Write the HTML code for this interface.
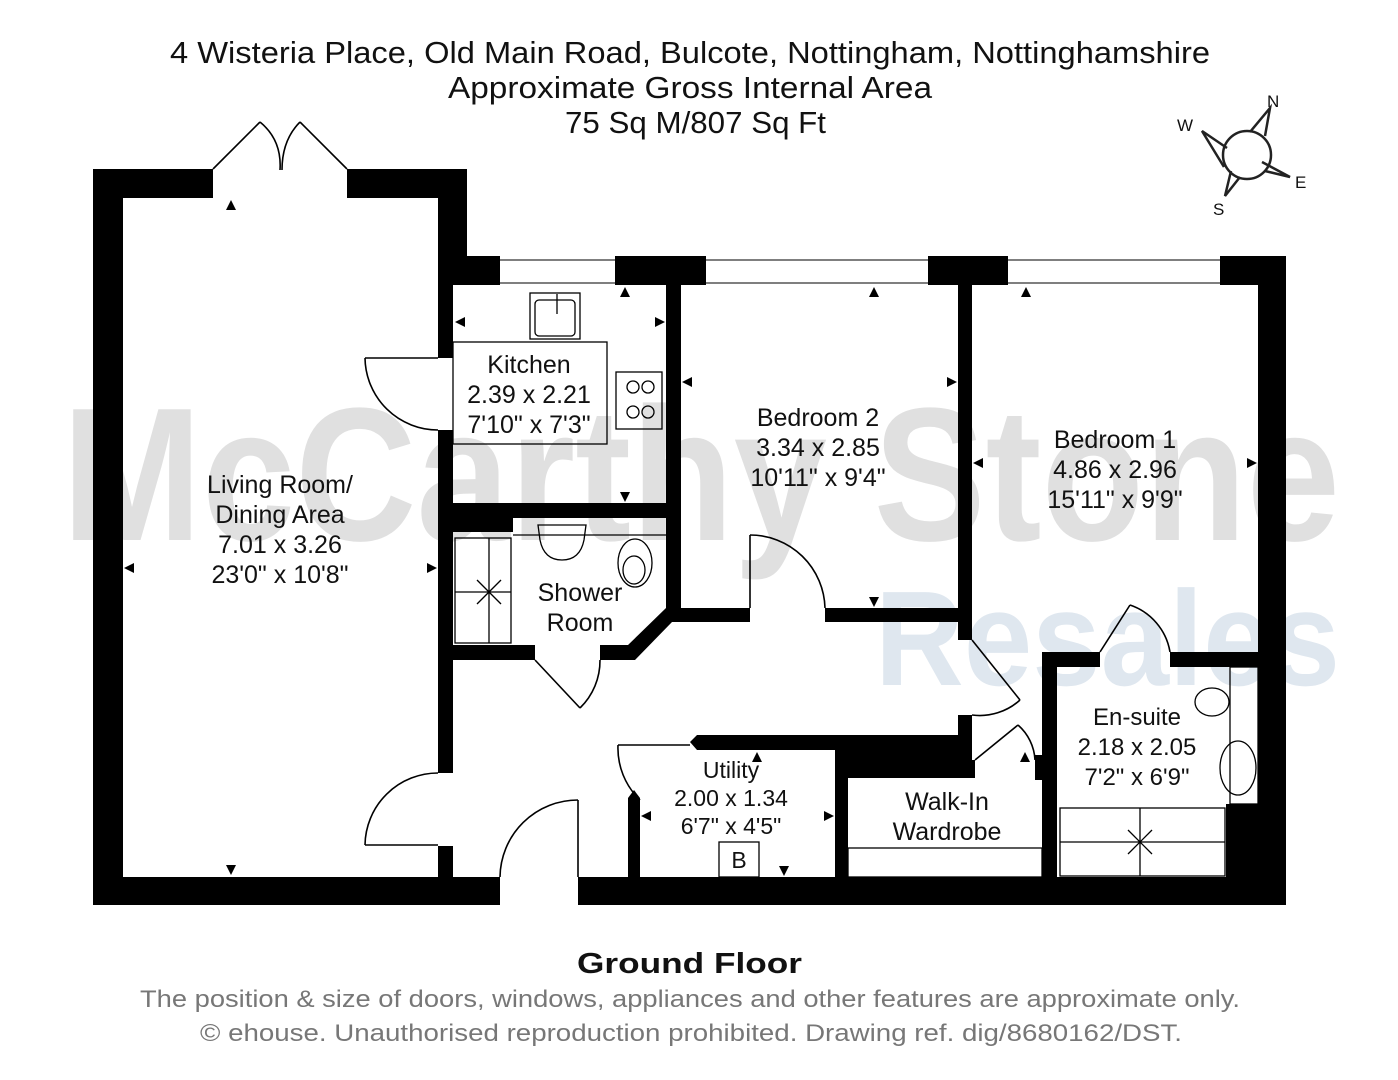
<!DOCTYPE html>
<html><head><meta charset="utf-8"><style>
html,body{margin:0;padding:0;background:#fff;}
svg{display:block;}
text{font-family:"Liberation Sans",sans-serif;}
</style></head><body>
<svg width="1398" height="1080" viewBox="0 0 1398 1080" xmlns="http://www.w3.org/2000/svg">
<!-- watermark -->
<text x="62" y="540" font-size="190" font-weight="bold" fill="#e0e0e0" textLength="1278" lengthAdjust="spacingAndGlyphs">McCarthy Stone</text>
<text x="875" y="685" font-size="135" font-weight="bold" fill="#dfe7ef" textLength="465" lengthAdjust="spacingAndGlyphs">Resales</text>

<!-- title -->
<g font-size="31" fill="#111">
<text x="170" y="63" textLength="1040" lengthAdjust="spacingAndGlyphs">4 Wisteria Place, Old Main Road, Bulcote, Nottingham, Nottinghamshire</text>
<text x="448" y="98" textLength="484" lengthAdjust="spacingAndGlyphs">Approximate Gross Internal Area</text>
<text x="565" y="133" textLength="261" lengthAdjust="spacingAndGlyphs">75 Sq M/807 Sq Ft</text>
</g>

<!-- compass -->
<g stroke="#222" stroke-width="2.5" fill="none">
<circle cx="1247" cy="155" r="24"/>
<polyline points="1250,132 1270,108 1265,136"/>
<polyline points="1227,148 1202,131 1224,167"/>
<polyline points="1265,171 1290,177 1262,162"/>
<polyline points="1240,177 1225,196 1231,171"/>
</g>
<g font-size="17" fill="#111"><text x="1267" y="107">N</text><text x="1177" y="131">W</text><text x="1295" y="188">E</text><text x="1213" y="215">S</text></g>

<!-- walls -->
<g fill="#000">
<rect x="93" y="169" width="120" height="29"/>
<rect x="93" y="169" width="30" height="736"/>
<rect x="347" y="169" width="120" height="29"/>
<rect x="438" y="169" width="29" height="116"/>
<rect x="438" y="256" width="62" height="29"/>
<rect x="615" y="256" width="91" height="29"/>
<rect x="928" y="256" width="80" height="29"/>
<rect x="1220" y="256" width="66" height="29"/>
<rect x="1258" y="256" width="28" height="649"/>
<rect x="438" y="285" width="15" height="73"/>
<rect x="438" y="430" width="15" height="343"/>
<rect x="438" y="846" width="15" height="31"/>
<rect x="93" y="877" width="407" height="28"/>
<rect x="578" y="877" width="708" height="28"/>
<rect x="666" y="285" width="15" height="337"/>
<rect x="453" y="503" width="213" height="15"/>
<rect x="453" y="518" width="60" height="14"/>
<rect x="453" y="645" width="82" height="15"/>
<polygon points="600,645 628,645 666,608 681,608 681,622 672,622 635,660 600,660"/>
<rect x="666" y="608" width="84" height="14"/>
<rect x="825" y="608" width="147" height="14"/>
<rect x="958" y="285" width="14" height="355"/>
<rect x="958" y="715" width="14" height="30"/>
<polygon points="697,735 972,735 972,760 848,760 848,877 835,877 835,750 697,750 690,742"/>
<rect x="848" y="745" width="124" height="33"/>
<rect x="628" y="798" width="12" height="79"/>
<polygon points="628,798 634,790 640,798"/>
<rect x="958" y="760" width="17" height="18"/>
<rect x="1035" y="755" width="22" height="25"/>
<rect x="1042" y="652" width="15" height="225"/>
<rect x="1042" y="652" width="58" height="15"/>
<rect x="1170" y="652" width="88" height="15"/>
<rect x="1226" y="804" width="32" height="73"/>
</g>

<!-- windows -->
<g stroke="#333" stroke-width="1.2" fill="none">
<line x1="500" y1="260" x2="615" y2="260"/><line x1="500" y1="283" x2="615" y2="283"/>
<line x1="706" y1="260" x2="928" y2="260"/><line x1="706" y1="283" x2="928" y2="283"/>
<line x1="1008" y1="260" x2="1220" y2="260"/><line x1="1008" y1="283" x2="1220" y2="283"/>
</g>

<!-- doors -->
<g stroke="#000" stroke-width="1.6" fill="none">
<line x1="213" y1="169" x2="260" y2="122"/><path d="M260,122 Q282,140 280,170"/>
<line x1="347" y1="169" x2="300" y2="122"/><path d="M300,122 Q282,140 282,170"/>
<line x1="438" y1="358" x2="365" y2="358"/><path d="M365,358 A73,73 0 0 0 438,430"/>
<line x1="438" y1="845" x2="365" y2="845"/><path d="M365,845 A73,73 0 0 1 438,773"/>
<line x1="578" y1="877" x2="578" y2="800"/><path d="M500,877 A78,78 0 0 1 578,800"/>
<line x1="535" y1="660" x2="580" y2="708"/><path d="M580,708 A66,66 0 0 0 600,660"/>
<line x1="750" y1="608" x2="750" y2="535"/><path d="M750,535 A75,75 0 0 1 825,608"/>
<line x1="972" y1="640" x2="1020" y2="700"/><path d="M1020,700 A60,60 0 0 1 972,715"/>
<line x1="1100" y1="652" x2="1130" y2="605"/><path d="M1130,605 A60,60 0 0 1 1170,652"/>
<line x1="975" y1="760" x2="1018" y2="725"/><path d="M1018,725 A50,50 0 0 1 1035,760"/>
<line x1="690" y1="745" x2="618" y2="745"/><path d="M618,745 A72,72 0 0 0 640,800"/>
</g>

<!-- fittings -->
<g stroke="#000" stroke-width="1.3" fill="none">
<rect x="453" y="342" width="154" height="102"/>
<rect x="530" y="293" width="50" height="46"/><rect x="535" y="300" width="40" height="36" rx="4"/>
<line x1="557" y1="294" x2="557" y2="314"/>
<rect x="616" y="372" width="46" height="57"/>
<circle cx="633" cy="387" r="6"/><circle cx="648" cy="387" r="6"/><circle cx="633" cy="412" r="6"/><circle cx="648" cy="412" r="6"/>
<line x1="513" y1="535" x2="666" y2="535"/>
<rect x="455" y="538" width="56" height="105"/><line x1="489" y1="538" x2="489" y2="643"/><line x1="455" y1="592" x2="511" y2="592"/>
<line x1="477" y1="580" x2="501" y2="604"/><line x1="477" y1="604" x2="501" y2="580"/>
<path d="M538,525 L586,525 L584,540 Q580,560 562,560 Q544,560 540,540 Z"/>
<ellipse cx="635" cy="563" rx="17" ry="24"/><ellipse cx="634" cy="570" rx="11" ry="14"/>
<rect x="848" y="848" width="194" height="29"/>
<rect x="719" y="842" width="40" height="35"/>
<rect x="1060" y="808" width="165" height="68"/><line x1="1060" y1="842" x2="1225" y2="842"/><line x1="1140" y1="808" x2="1140" y2="876"/>
<line x1="1128" y1="830" x2="1152" y2="854"/><line x1="1128" y1="854" x2="1152" y2="830"/>
<rect x="1230" y="667" width="28" height="137"/>
<ellipse cx="1212" cy="702" rx="17" ry="14"/>
<ellipse cx="1238" cy="768" rx="18" ry="27"/>
</g>

<!-- dimension arrows -->
<g fill="#000">
<polygon points="231,200 226,210 236,210"/><polygon points="231,875 226,865 236,865"/>
<polygon points="124,568 134,563 134,573"/><polygon points="437,568 427,563 427,573"/>
<polygon points="625,287 620,297 630,297"/><polygon points="625,502 620,492 630,492"/>
<polygon points="455,322 465,317 465,327"/><polygon points="665,322 655,317 655,327"/>
<polygon points="874,287 869,297 879,297"/><polygon points="874,607 869,597 879,597"/>
<polygon points="682,382 692,377 692,387"/><polygon points="957,382 947,377 947,387"/>
<polygon points="1026,287 1021,297 1031,297"/>
<polygon points="973,463 983,458 983,468"/><polygon points="1257,463 1247,458 1247,468"/>
<polygon points="757,752 752,762 762,762"/><polygon points="784,876 779,866 789,866"/>
<polygon points="641,816 651,811 651,821"/><polygon points="834,816 824,811 824,821"/>
<polygon points="1025,752 1020,762 1030,762"/>
</g>

<!-- room labels -->
<g font-size="25" fill="#111" text-anchor="middle">
<text x="529" y="373">Kitchen</text><text x="529" y="403">2.39 x 2.21</text><text x="529" y="433">7'10" x 7'3"</text>
<text x="818" y="426">Bedroom 2</text><text x="818" y="456">3.34 x 2.85</text><text x="818" y="486">10'11" x 9'4"</text>
<text x="1115" y="448">Bedroom 1</text><text x="1115" y="478">4.86 x 2.96</text><text x="1115" y="508">15'11" x 9'9"</text>
<text x="280" y="493">Living Room/</text><text x="280" y="523">Dining Area</text><text x="280" y="553">7.01 x 3.26</text><text x="280" y="583">23'0" x 10'8"</text>
<text x="580" y="601">Shower</text><text x="580" y="631">Room</text>
<text x="731" y="778" font-size="23">Utility</text><text x="731" y="806" font-size="23">2.00 x 1.34</text><text x="731" y="834" font-size="23">6'7" x 4'5"</text>
<text x="739" y="868" font-size="23">B</text>
<text x="947" y="810">Walk-In</text><text x="947" y="840">Wardrobe</text>
<text x="1137" y="725" font-size="24">En-suite</text><text x="1137" y="755" font-size="24">2.18 x 2.05</text><text x="1137" y="785" font-size="24">7'2" x 6'9"</text>
</g>

<text x="577" y="973" font-size="29" font-weight="bold" fill="#111" textLength="225" lengthAdjust="spacingAndGlyphs">Ground Floor</text>
<g font-size="24" fill="#777">
<text x="140" y="1007" textLength="1100" lengthAdjust="spacingAndGlyphs">The position &amp; size of doors, windows, appliances and other features are approximate only.</text>
<text x="200" y="1041" textLength="982" lengthAdjust="spacingAndGlyphs">© ehouse. Unauthorised reproduction prohibited. Drawing ref. dig/8680162/DST.</text>
</g>
</svg>
</body></html>
